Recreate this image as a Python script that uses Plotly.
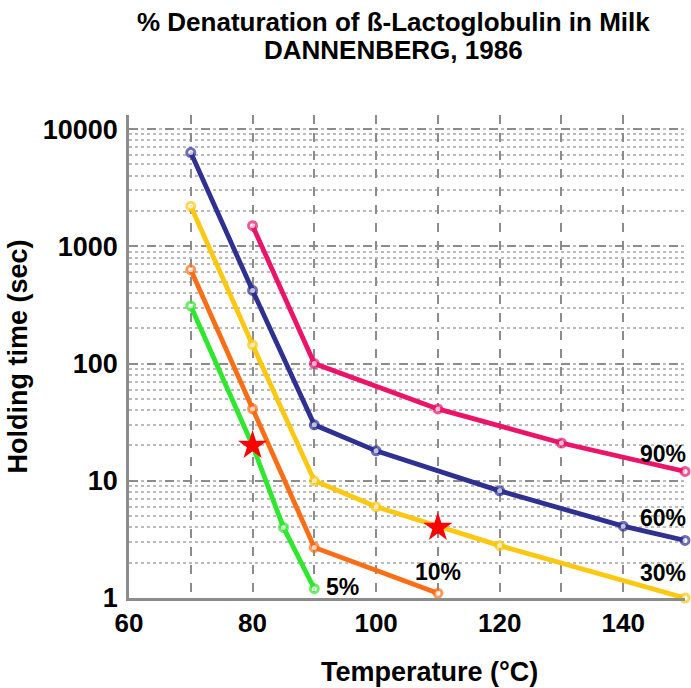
import math
import plotly.graph_objects as go

# Temperature (°C) and holding time (s) for each level of denaturation
temp_90 = [80, 90, 110, 130, 150]
time_90 = [1500, 100, 41, 21, 12]

temp_60 = [70, 80, 90, 100, 120, 140, 150]
time_60 = [6300, 420, 30, 18, 8.2, 4.1, 3.1]

temp_30 = [70, 80, 90, 100, 120, 150]
time_30 = [2200, 144, 10, 6.0, 2.8, 1.0]

temp_10 = [70, 80, 90, 110]
time_10 = [630, 41, 2.7, 1.1]

temp_5 = [70, 80, 85, 90]
time_5 = [310, 20, 4.0, 1.2]
marker_5 = [True, False, True, True]

# Highlighted conditions
star_temp = [80, 110]
star_time = [20, 4.0]

x_tickvals = [60, 70, 80, 90, 100, 110, 120, 130, 140, 150]
x_ticktext = ["60", "", "80", "", "100", "", "120", "", "140", ""]
y_tickvals = [1, 10, 100, 1000, 10000]
y_ticktext = ["1", "10", "100", "1000", "10000"]

series = [
    ("5%", temp_5, time_5, "#2EE82E"),
    ("10%", temp_10, time_10, "#FB6E16"),
    ("30%", temp_30, time_30, "#FDC812"),
    ("60%", temp_60, time_60, "#2E3092"),
    ("90%", temp_90, time_90, "#EB1469"),
]

FONT = "Liberation Sans, Arial, sans-serif"

fig = go.Figure()
for name, xs, ys, color in series:
    sizes = [8] * len(xs)
    if name == "5%":
        sizes = [8 if m else 0 for m in marker_5]
    fig.add_trace(go.Scatter(
        x=xs, y=ys, name=name, mode="lines+markers",
        line=dict(color=color, width=4.8),
        marker=dict(symbol="circle", size=sizes, color="white",
                    line=dict(color=color, width=3)),
        cliponaxis=False, showlegend=False,
    ))

fig.add_trace(go.Scatter(
    x=star_temp, y=star_time, mode="markers",
    marker=dict(symbol="star", size=22, color="#FF0000", line=dict(width=0)),
    cliponaxis=False, showlegend=False,
))

# Series labels (annotation y on a log axis is given in log10 units)
labels = [
    ("90%", 150, 16.9, "right"),
    ("60%", 150, 4.8, "right"),
    ("30%", 150, 1.63, "right"),
    ("10%", 110, 1.67, "center"),
    ("5%", 91.5, 1.24, "left"),
]
for text, x, y, anchor in labels:
    fig.add_annotation(
        x=x, y=math.log10(y), text=text, showarrow=False,
        xanchor=anchor, yanchor="middle",
        xshift=3 if anchor == "right" else 0,
        font=dict(family=FONT, size=23, color="black", weight="bold"),
    )

# Two-line heading
fig.add_annotation(
    text="% Denaturation of ß-Lactoglobulin in Milk",
    xref="paper", yref="paper", x=0.476, y=1.192,
    xanchor="center", yanchor="middle", showarrow=False,
    font=dict(family=FONT, size=26, color="black", weight="bold"),
)
fig.add_annotation(
    text="DANNENBERG, 1986",
    xref="paper", yref="paper", x=0.476, y=1.134,
    xanchor="center", yanchor="middle", showarrow=False,
    font=dict(family=FONT, size=26, color="black", weight="bold"),
)

# Horizontal axis title
fig.add_annotation(
    text="Temperature (°C)",
    xref="paper", yref="paper", x=0.54, y=-0.153,
    xanchor="center", yanchor="middle", showarrow=False,
    font=dict(family=FONT, size=27, color="black", weight="bold"),
)

fig.update_layout(
    width=691, height=688,
    margin=dict(l=129, r=6, t=115, b=90),
    paper_bgcolor="white", plot_bgcolor="white",
    font=dict(family=FONT, color="black"),
)

fig.update_xaxes(
    range=[60, 150], tickvals=x_tickvals, ticktext=x_ticktext,
    showline=True, linecolor="#8C8C8C", linewidth=2.5,
    showgrid=True, gridcolor="#8C8C8C", gridwidth=2, griddash="dash",
    ticks="", zeroline=False,
    tickfont=dict(family=FONT, size=26, color="black", weight="bold"),
)

fig.update_yaxes(
    type="log", range=[0, 4.12], tickvals=y_tickvals, ticktext=y_ticktext,
    showline=True, linecolor="#8C8C8C", linewidth=2.5,
    showgrid=True, gridcolor="#8C8C8C", gridwidth=1.5, griddash="dash",
    minor=dict(dtick="D1", showgrid=True, gridcolor="#BBBBBB",
               gridwidth=1.5, griddash="dot"),
    ticks="", zeroline=False, ticklabelstandoff=3,
    tickfont=dict(family=FONT, size=27, color="black", weight="bold"),
    title=dict(text="Holding time (sec)", standoff=8,
               font=dict(family=FONT, size=27, color="black", weight="bold")),
)

fig.write_html("out.html")
